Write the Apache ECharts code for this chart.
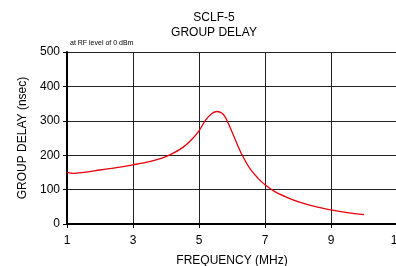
<!DOCTYPE html>
<html><head><meta charset="utf-8">
<script src="https://cdn.jsdelivr.net/npm/echarts@6/dist/echarts.min.js"></script>
<style>html,body{margin:0;padding:0;background:#fff}#c{width:396px;height:266px}</style>
</head><body><div id="c"></div>
<script>
var freq  = [1, 1.2, 1.5, 2, 2.5, 3, 3.5, 3.8, 4.1, 4.5, 4.8, 5, 5.2, 5.4, 5.55, 5.7, 5.8, 5.9, 6.1, 6.3, 6.55, 6.8, 7, 7.3, 7.7, 8, 8.5, 9, 9.5, 10];
var delay = [150, 147, 150, 157, 164, 172, 181, 189, 200, 222, 248, 271, 302, 322, 327, 322, 310, 290, 245, 202, 160, 132, 114, 94, 76, 65, 51, 41, 33, 27];
var titleText = 'SCLF-5\nGROUP DELAY';
var noteText = 'at RF level of 0 dBm';
var xName = 'FREQUENCY (MHz)';
var yName = 'GROUP DELAY (nsec)';

var pts = freq.map(function(f, i){ return [f, delay[i]]; });
var font = 'Liberation Sans, Arial, sans-serif';
var chart = echarts.init(document.getElementById('c'));
chart.setOption({
  animation: false,
  title: { text: titleText, left: 209, top: 5, textAlign: 'center',
    textStyle: { fontFamily: font, fontSize: 12, fontWeight: 'normal', color: '#000', lineHeight: 15 } },
  graphic: [{ type: 'text', left: 70, top: 40,
    style: { text: noteText, fontFamily: font, fontSize: 7, fill: '#000' } }],
  grid: { left: 67, top: 52, width: 330, height: 172, show: false, outerBoundsMode: 'none', containLabel: false },
  xAxis: { type: 'value', min: 1, max: 11, interval: 2,
    name: xName, nameLocation: 'middle', nameGap: 31,
    nameTextStyle: { fontFamily: font, fontSize: 12, color: '#000' },
    axisLine: { show: true, lineStyle: { color: '#000', width: 2 } },
    axisTick: { show: true, length: 4, lineStyle: { color: '#000' } },
    axisLabel: { fontFamily: font, fontSize: 12, color: '#000', margin: 11, showMaxLabel: true },
    splitLine: { show: true, lineStyle: { color: '#222', width: 1 } } },
  yAxis: { type: 'value', min: 0, max: 500, interval: 100,
    name: yName, nameLocation: 'middle', nameGap: 31, nameRotate: 90,
    nameTextStyle: { fontFamily: font, fontSize: 12, color: '#000' },
    axisLine: { show: true, lineStyle: { color: '#000', width: 2 } },
    axisTick: { show: true, length: 4, lineStyle: { color: '#000' } },
    axisLabel: { fontFamily: font, fontSize: 12, color: '#000', margin: 7 },
    splitLine: { show: true, lineStyle: { color: '#222', width: 1 } } },
  series: [{ type: 'line', data: pts, smooth: 0.35, showSymbol: false,
    lineStyle: { color: '#e8000b', width: 1.3 } }]
});
</script></body></html>
